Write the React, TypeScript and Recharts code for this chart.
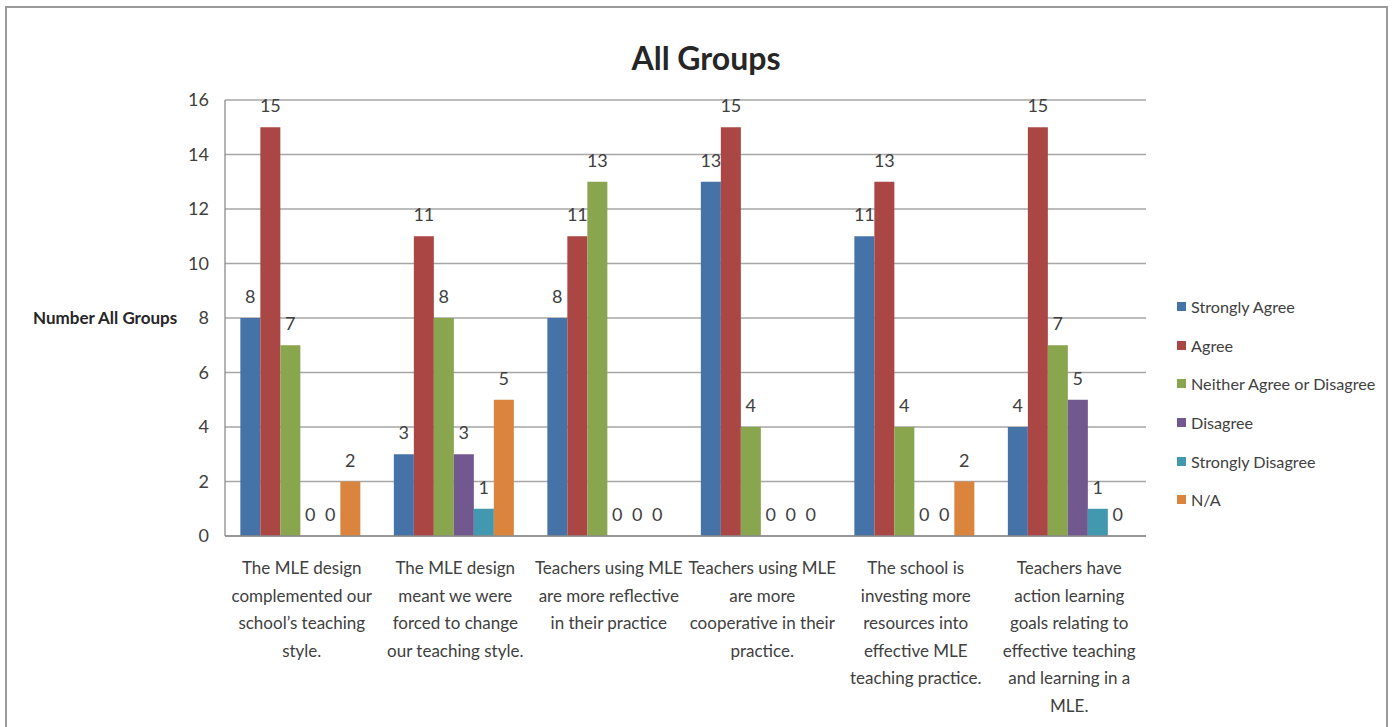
import React from 'react';
import { BarChart, Bar, XAxis, YAxis, CartesianGrid, LabelList, Label } from 'recharts';

// Survey statements (category axis), one entry per wrapped line
const categoryLines: string[][] = [
  ['The MLE design', 'complemented our', 'school\u2019s teaching', 'style.'],
  ['The MLE design', 'meant we were', 'forced to change', 'our teaching style.'],
  ['Teachers using MLE', 'are more reflective', 'in their practice'],
  ['Teachers using MLE', 'are more', 'cooperative in their', 'practice.'],
  ['The school is', 'investing more', 'resources into', 'effective MLE', 'teaching practice.'],
  ['Teachers have', 'action learning', 'goals relating to', 'effective teaching', 'and learning in a', 'MLE.'],
];

// Response counts per statement
const stronglyAgree = [8, 3, 8, 13, 11, 4];
const agree = [15, 11, 11, 15, 13, 15];
const neitherAgree = [7, 8, 13, 4, 4, 7];
const disagree = [0, 3, 0, 0, 0, 5];
const stronglyDisagree = [0, 1, 0, 0, 0, 1];
const notApplicable = [2, 5, 0, 0, 2, 0];

const seriesNames = ['Strongly Agree', 'Agree', 'Neither Agree or Disagree', 'Disagree', 'Strongly Disagree', 'N/A'];
const seriesValues = [stronglyAgree, agree, neitherAgree, disagree, stronglyDisagree, notApplicable];
const seriesColors = ['#4572A7', '#AA4643', '#89A54E', '#71588F', '#4198AF', '#DB843D'];

const yTicks = [0, 2, 4, 6, 8, 10, 12, 14, 16];

const chartTitle = 'All Groups';
const yAxisTitle = 'Number All Groups';

const FONT = 'Lato, "Open Sans", sans-serif';
const TEXT = '#404040';

const seriesKeys = seriesNames.map((_, i) => `s${i}`);

// One row per statement; the "_label" fields carry the printed value so
// zero counts still get their "0" label at the baseline.
const data = categoryLines.map((lines, i) => {
  const row: Record<string, string | number> = { category: lines.join(' ') };
  seriesKeys.forEach((k, s) => {
    row[k] = seriesValues[s][i];
    row[`${k}_label`] = String(seriesValues[s][i]);
  });
  return row;
});

const linesByCategory: Record<string, string[]> = {};
categoryLines.forEach((lines) => {
  linesByCategory[lines.join(' ')] = lines;
});

const CategoryTick = (props: any) => {
  const { x, y, payload } = props;
  const lines = linesByCategory[payload.value] || [String(payload.value)];
  return (
    <text x={x} y={y} textAnchor="middle" fill={TEXT} fontSize={17} fontFamily={FONT}>
      {lines.map((line, i) => (
        <tspan key={i} x={x} y={y + 38 + i * 27.5}>
          {line}
        </tspan>
      ))}
    </text>
  );
};

const ValueLabel = (props: any) => {
  const { x, y, width, height, value } = props;
  if (x == null || y == null) return null;
  // bar top edge (zero-count bars keep only a sub-pixel stub at the baseline)
  const top = Number(height) < 0 ? Number(y) + Number(height) : Number(y);
  return (
    <text
      x={Number(x) + Number(width) / 2}
      y={top - 15}
      textAnchor="middle"
      fill={TEXT}
      fontSize={18}
      fontFamily={FONT}
    >
      {value}
    </text>
  );
};

export default function App() {
  return (
    <div
      style={{
        position: 'absolute',
        left: 0,
        top: 0,
        width: 1397,
        height: 727,
        overflow: 'hidden',
        background: '#ffffff',
        fontFamily: FONT,
      }}
    >
      <div
        style={{
          position: 'absolute',
          left: 5,
          top: 6,
          width: 1383,
          height: 730,
          borderTop: '2px solid #9a9a9a',
          borderLeft: '2px solid #9a9a9a',
          borderRight: '2px solid #9a9a9a',
          boxSizing: 'border-box',
        }}
      />
      <div
        style={{
          position: 'absolute',
          left: 0,
          top: 40,
          width: 1412,
          textAlign: 'center',
          fontSize: 32,
          lineHeight: '36px',
          fontWeight: 'bold',
          color: '#262626',
        }}
      >
        {chartTitle}
      </div>
      <div style={{ position: 'absolute', left: 0, top: 0 }}>
        <BarChart
          width={1397}
          height={727}
          data={data}
          margin={{ top: 100, right: 251, bottom: 0, left: 0 }}
          barCategoryGap="10%"
          barGap={0}
        >
          <CartesianGrid vertical={false} stroke="#a6a6a6" strokeWidth={1.3} />
          <XAxis
            dataKey="category"
            axisLine={{ stroke: '#8c8c8c', strokeWidth: 1.3 }}
            tickLine={false}
            tickSize={0}
            tickMargin={0}
            interval={0}
            height={191}
            tick={<CategoryTick />}
          />
          <YAxis
            type="number"
            domain={[0, 16]}
            ticks={yTicks}
            width={225}
            axisLine={{ stroke: '#8c8c8c', strokeWidth: 1.3 }}
            tickLine={false}
            tickSize={0}
            tickMargin={16}
            tick={{ fill: TEXT, fontSize: 18, fontFamily: FONT }}
          >
            <Label
              value={yAxisTitle}
              position="insideLeft"
              offset={33}
              fill="#262626"
              fontSize={17}
              fontWeight="bold"
              fontFamily={FONT}
            />
          </YAxis>
          {seriesKeys.map((k, s) => (
            <Bar
              key={k}
              dataKey={k}
              name={seriesNames[s]}
              fill={seriesColors[s]}
              minPointSize={0.01}
              isAnimationActive={false}
            >
              <LabelList dataKey={`${k}_label`} content={<ValueLabel />} />
            </Bar>
          ))}
        </BarChart>
      </div>
      <div style={{ position: 'absolute', left: 1177, top: 287.4 }}>
        {seriesNames.map((name, s) => (
          <div key={name} style={{ display: 'flex', alignItems: 'center', height: 38.6 }}>
            <div style={{ width: 9, height: 9, background: seriesColors[s], marginRight: 5 }} />
            <span style={{ fontSize: 16.2, color: TEXT, whiteSpace: 'nowrap' }}>{name}</span>
          </div>
        ))}
      </div>
    </div>
  );
}
